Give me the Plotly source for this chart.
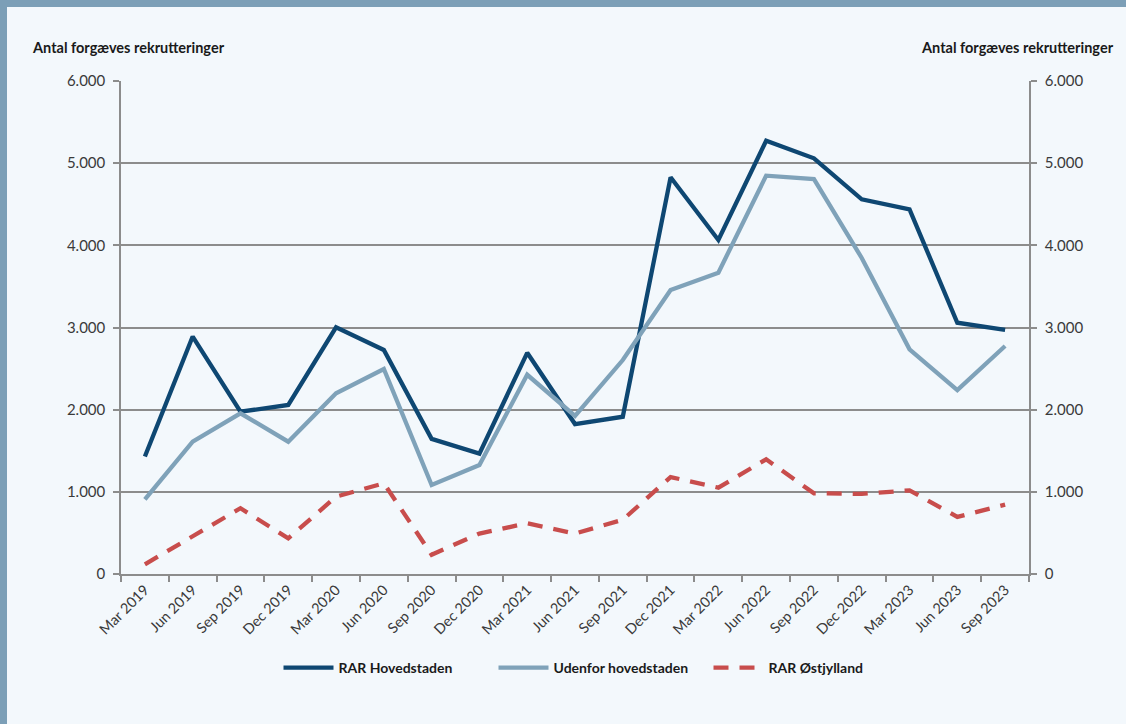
import plotly.graph_objects as go

categories = ["Mar 2019", "Jun 2019", "Sep 2019", "Dec 2019", "Mar 2020", "Jun 2020",
              "Sep 2020", "Dec 2020", "Mar 2021", "Jun 2021", "Sep 2021", "Dec 2021",
              "Mar 2022", "Jun 2022", "Sep 2022", "Dec 2022", "Mar 2023", "Jun 2023",
              "Sep 2023"]

rar_hovedstaden = [1430, 2890, 1975, 2057, 3002, 2726, 1645, 1465, 2692, 1825, 1914,
                   4828, 4065, 5273, 5059, 4560, 4438, 3058, 2970]
udenfor_hovedstaden = [909, 1610, 1956, 1610, 2199, 2495, 1083, 1327, 2425, 1923, 2604,
                       3456, 3667, 4848, 4807, 3846, 2734, 2239, 2775]
rar_oestjylland = [118, 459, 800, 434, 941, 1104, 235, 492, 617, 492, 660,
                   1180, 1051, 1396, 982, 975, 1018, 695, 845]

y_ticks = [0, 1000, 2000, 3000, 4000, 5000, 6000]
axis_title = "Antal forgæves rekrutteringer"

BG = "#F3F8FC"
GRID = "#8C8C8C"
FONT = "Lato, 'Noto Sans', sans-serif"
TICKCOL = "#3a3a3a"

fig = go.Figure()
fig.add_trace(go.Scatter(x=categories, y=rar_hovedstaden, name="RAR Hovedstaden",
                         mode="lines", line=dict(color="#0E4772", width=4.3)))
fig.add_trace(go.Scatter(x=categories, y=udenfor_hovedstaden, name="Udenfor hovedstaden",
                         mode="lines", line=dict(color="#7FA2B9", width=4.3)))
fig.add_trace(go.Scatter(x=categories, y=rar_oestjylland, name="RAR Østjylland",
                         mode="lines", line=dict(color="#C84D4C", width=4.3, dash="15px,11px")))
# invisible trace for right axis
fig.add_trace(go.Scatter(x=categories, y=rar_hovedstaden, yaxis="y2", showlegend=False,
                         mode="lines", line=dict(width=0), hoverinfo="skip", opacity=0))

W, H = 1126, 724
L, R, T, B = 121, 97, 81, 150
pw, ph = W - L - R, H - T - B

def px(x):
    return (x - L) / pw

def py(y):
    return (H - B - y) / ph

fig.update_layout(
    width=W, height=H,
    margin=dict(l=L, r=R, t=T, b=B),
    paper_bgcolor=BG, plot_bgcolor=BG,
    separators=",.",
    font=dict(family=FONT, size=15, color=TICKCOL),
    showlegend=True,
    legend=dict(orientation="h", x=px(601), xanchor="center", y=py(668), yanchor="middle",
                font=dict(family=FONT, size=14, color="#1a1a1a", weight="bold"),
                bgcolor="rgba(0,0,0,0)", itemwidth=50, tracegroupgap=0,
                entrywidth=150, entrywidthmode="pixels"),
    xaxis=dict(type="category", categoryorder="array", categoryarray=categories,
               tickangle=-45, ticks="outside", tickson="boundaries", ticklen=6,
               tickcolor=GRID, tickwidth=1.5, showline=True, linecolor=GRID, linewidth=1.5,
               showgrid=False, tickfont=dict(size=14.5, color=TICKCOL), mirror=False,
               range=[-0.5, len(categories) - 0.5], zeroline=False),
    yaxis=dict(range=[0, 6000], tickvals=y_ticks, tickformat=",d", ticks="outside",
               ticklen=6, tickcolor=GRID, tickwidth=1.5, showline=True, linecolor=GRID,
               linewidth=1.5, showgrid=True, gridcolor=GRID, gridwidth=1.5, zeroline=False,
               ticklabelstandoff=5, tickfont=dict(size=15, color=TICKCOL)),
    yaxis2=dict(range=[0, 6000], tickvals=y_ticks, tickformat=",d", ticks="outside",
                ticklen=6, tickcolor=GRID, tickwidth=1.5, showline=True, linecolor=GRID,
                linewidth=1.5, showgrid=False, zeroline=False, overlaying="y", side="right",
                ticklabelstandoff=5, tickfont=dict(size=15, color=TICKCOL)),
)

fig.add_annotation(text="<b>" + axis_title + "</b>", xref="paper", yref="paper",
                   x=px(30), y=py(48), xanchor="left", yanchor="middle", showarrow=False,
                   font=dict(family=FONT, size=14.5, color="#1a1a1a"))
fig.add_annotation(text="<b>" + axis_title + "</b>", xref="paper", yref="paper",
                   x=px(1116), y=py(48), xanchor="right", yanchor="middle", showarrow=False,
                   font=dict(family=FONT, size=14.5, color="#1a1a1a"))

# frame strips (top and left)
fig.add_shape(type="rect", xref="paper", yref="paper", x0=px(0), x1=px(W), y0=py(7), y1=py(0),
              fillcolor="#7C9FB7", line=dict(width=0), layer="above")
fig.add_shape(type="rect", xref="paper", yref="paper", x0=px(0), x1=px(7), y0=py(H), y1=py(0),
              fillcolor="#7C9FB7", line=dict(width=0), layer="above")

fig.write_html("out.html", config={"displayModeBar": False},
               post_script="document.body.style.margin='0';document.body.style.overflow='hidden';")
